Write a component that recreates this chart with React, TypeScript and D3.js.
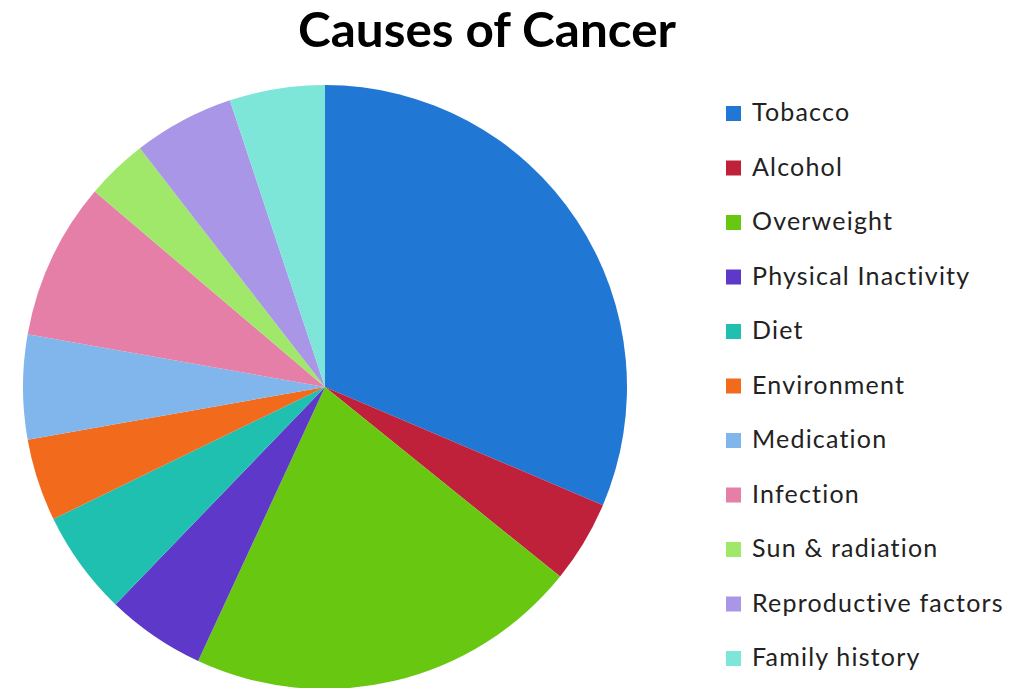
import React from "react";
import * as d3 from "d3";

const categories = [
  "Tobacco",
  "Alcohol",
  "Overweight",
  "Physical Inactivity",
  "Diet",
  "Environment",
  "Medication",
  "Infection",
  "Sun & radiation",
  "Reproductive factors",
  "Family history",
];
const values = [31.4, 4.4, 21.1, 5.3, 5.6, 4.4, 5.6, 8.4, 3.3, 5.4, 5.1];
const colors = [
  "#2177d4",
  "#c0213a",
  "#68c811",
  "#5d38c9",
  "#1fc0b0",
  "#f26a1b",
  "#80b6ec",
  "#e57fa8",
  "#a0e86a",
  "#a996e6",
  "#7de6d8",
];

export default function App() {
  const W = 1030;
  const H = 688;
  const cx = 325;
  const cy = 387;
  const r = 302;
  const pie = d3.pie<number>().sort(null).value((d) => d);
  const arcs = pie(values);
  const arc = d3.arc<d3.PieArcDatum<number>>().innerRadius(0).outerRadius(r);
  const legendY = d3
    .scalePoint<string>()
    .domain(categories)
    .range([121, 666]);

  return (
    <svg
      width={W}
      height={H}
      style={{ position: "absolute", left: 0, top: 0, background: "#fff" }}
    >
      <text
        x={487}
        y={47}
        textAnchor="middle"
        fontFamily="Lato, sans-serif"
        fontWeight="bold"
        fontSize={47}
        textLength={378}
        lengthAdjust="spacingAndGlyphs"
        fill="#000"
      >
        Causes of Cancer
      </text>
      <g transform={`translate(${cx},${cy})`}>
        {arcs.map((a, i) => (
          <path key={i} d={arc(a) || ""} fill={colors[i]} />
        ))}
      </g>
      <g>
        {categories.map((c, i) => (
          <g key={c} transform={`translate(0,${legendY(c)})`}>
            <rect x={726} y={-15} width={15} height={15} fill={colors[i]} />
            <text
              x={752}
              y={0}
              fontFamily="Lato, sans-serif"
              fontSize={25}
              letterSpacing={1.2}
              fill="#222"
            >
              {c}
            </text>
          </g>
        ))}
      </g>
    </svg>
  );
}
